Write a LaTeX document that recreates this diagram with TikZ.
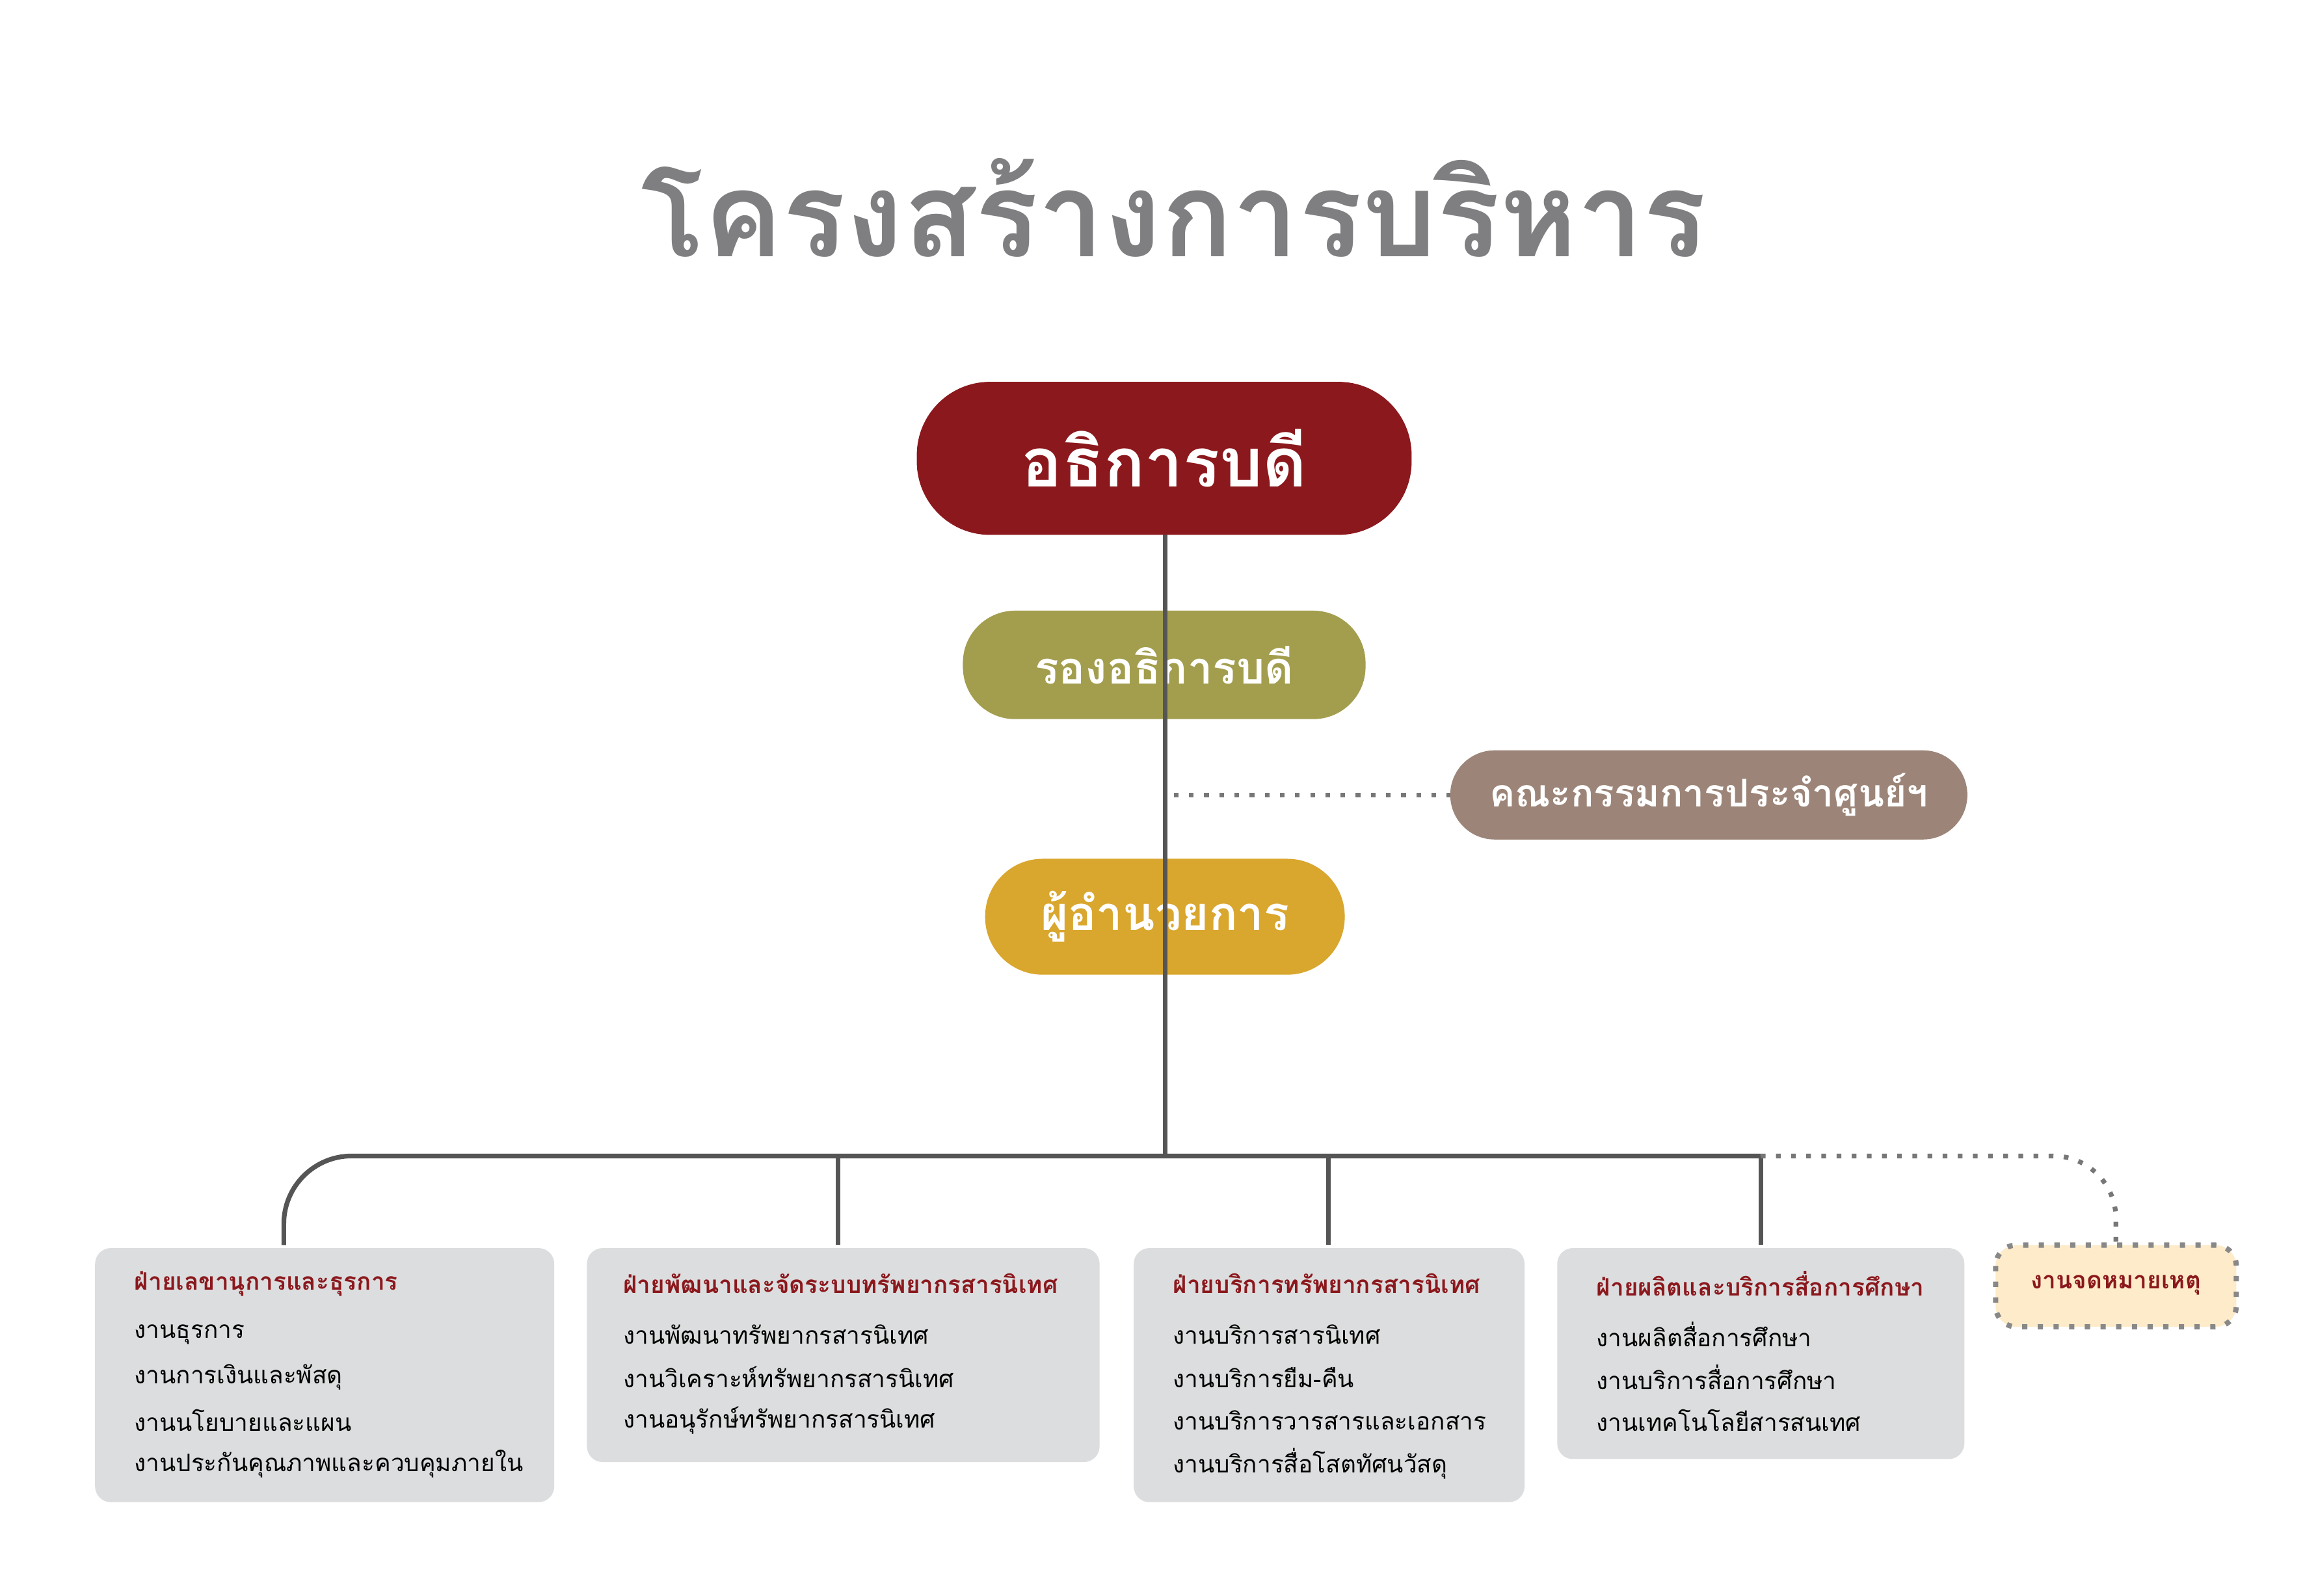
\documentclass[tikz,border=0pt]{standalone}
\usepackage{fontspec}
\setmainfont[Script=Thai]{Loma}
\definecolor{cTitle}{HTML}{7F7F82}
\definecolor{cDir}{HTML}{8B181D}
\definecolor{cVice}{HTML}{A39E4E}
\definecolor{cComm}{HTML}{9C8578}
\definecolor{cMgr}{HTML}{D9A62E}
\definecolor{cBox}{HTML}{DCDDDE}
\definecolor{cHead}{HTML}{8B181D}
\definecolor{cLine}{HTML}{555555}
\definecolor{cNote}{HTML}{FDEBC9}
\tikzset{
 conn/.style={draw=cLine, line width=0.9pt},
 dotconn/.style={draw=cLine!80, line width=0.9pt, dotted},
 dept/.style={fill=cBox, rounded corners=3pt},
 hd/.style={anchor=west, text=cHead, font=\fontsize{4.6}{5}\selectfont\bfseries},
 it/.style={anchor=west, text=black, font=\fontsize{4.6}{5}\selectfont},
}
\begin{document}
\begin{tikzpicture}[x=0.01cm,y=-0.01cm]
\useasboundingbox (0,0) rectangle (1560,1074);
\fill[white] (0,0) rectangle (1560,1074);
\node[text=cTitle, font=\fontsize{22.5}{24}\selectfont\bfseries] (title) at (790,140) {โครงสร้างการบริหาร};
% main pills
\fill[cDir, rounded corners=14pt] (617,257) rectangle (950,360);
\node[text=white,font=\fontsize{13}{15}\selectfont\bfseries] (dir) at (783.5,308.5) {อธิการบดี};
\fill[cVice, rounded corners=10pt] (648,411) rectangle (919,484);
\node[text=white,font=\fontsize{8.5}{10}\selectfont\bfseries] (vice) at (783.5,447.5) {รองอธิการบดี};
\fill[cComm, rounded corners=8.5pt] (976,505) rectangle (1324,565);
\node[text=white,font=\fontsize{7.3}{9}\selectfont\bfseries] (comm) at (1150,535) {คณะกรรมการประจำศูนย์ฯ};
\fill[cMgr, rounded corners=11pt] (663,578) rectangle (905,656);
\node[text=white,font=\fontsize{9}{11}\selectfont\bfseries] (mgr) at (784,617) {ผู้อำนวยการ};
\coordinate (pdir) at (784,360);
\coordinate (pmid) at (784,778);
\coordinate (pdot) at (790,535);
\coordinate (pcomm) at (976,535);
\draw[conn] (pdir) -- (pmid);
\draw[dotconn] (pdot) -- (pcomm);
% department boxes
\fill[dept] (64,840) rectangle (373,1011);
\fill[dept] (395,840) rectangle (740,984);
\fill[dept] (763,840) rectangle (1026,1011);
\fill[dept] (1048,840) rectangle (1322,982);
\filldraw[fill=cNote, draw=cLine!70, dotted, line width=1pt, rounded corners=4pt] (1343,838) rectangle (1505,893);
\node[text=cHead,font=\fontsize{4.6}{5}\selectfont\bfseries] (note) at (1424,865) {งานจดหมายเหตุ};
% tree lines
\coordinate (b1) at (191,838);
\coordinate (b2) at (564,838);
\coordinate (b3) at (894,838);
\coordinate (b4) at (1185,838);
\coordinate (h4) at (1185,778);
\coordinate (n5) at (1424,838);
\draw[conn, rounded corners=13pt] (b1) -- (191,778) -- (h4);
\draw[conn] (h4) -- (b4);
\draw[conn] (564,778) -- (b2);
\draw[conn] (894,778) -- (b3);
\draw[dotconn, rounded corners=12pt] (h4) -- (1424,778) -- (n5);
% texts
\node[hd] (d1) at (78,864) {ฝ่ายเลขานุการและธุรการ};
\node[it] at (78,898) {งานธุรการ};
\node[it] at (78,927) {งานการเงินและพัสดุ};
\node[it] at (78,956) {งานนโยบายและแผน};
\node[it] at (78,985) {งานประกันคุณภาพและควบคุมภายใน};
\node[hd] (d2) at (407,864) {ฝ่ายพัฒนาและจัดระบบทรัพยากรสารนิเทศ};
\node[it] at (407,898) {งานพัฒนาทรัพยากรสารนิเทศ};
\node[it] at (407,927) {งานวิเคราะห์ทรัพยากรสารนิเทศ};
\node[it] at (407,956) {งานอนุรักษ์ทรัพยากรสารนิเทศ};
\node[hd] (d3) at (777,864) {ฝ่ายบริการทรัพยากรสารนิเทศ};
\node[it] at (777,898) {งานบริการสารนิเทศ};
\node[it] at (777,927) {งานบริการยืม-คืน};
\node[it] at (777,956) {งานบริการวารสารและเอกสาร};
\node[it] at (777,985) {งานบริการสื่อโสตทัศนวัสดุ};
\node[hd] (d4) at (1062,864) {ฝ่ายผลิตและบริการสื่อการศึกษา};
\node[it] at (1062,898) {งานผลิตสื่อการศึกษา};
\node[it] at (1062,927) {งานบริการสื่อการศึกษา};
\node[it] at (1062,956) {งานเทคโนโลยีสารสนเทศ};
\end{tikzpicture}
\end{document}
